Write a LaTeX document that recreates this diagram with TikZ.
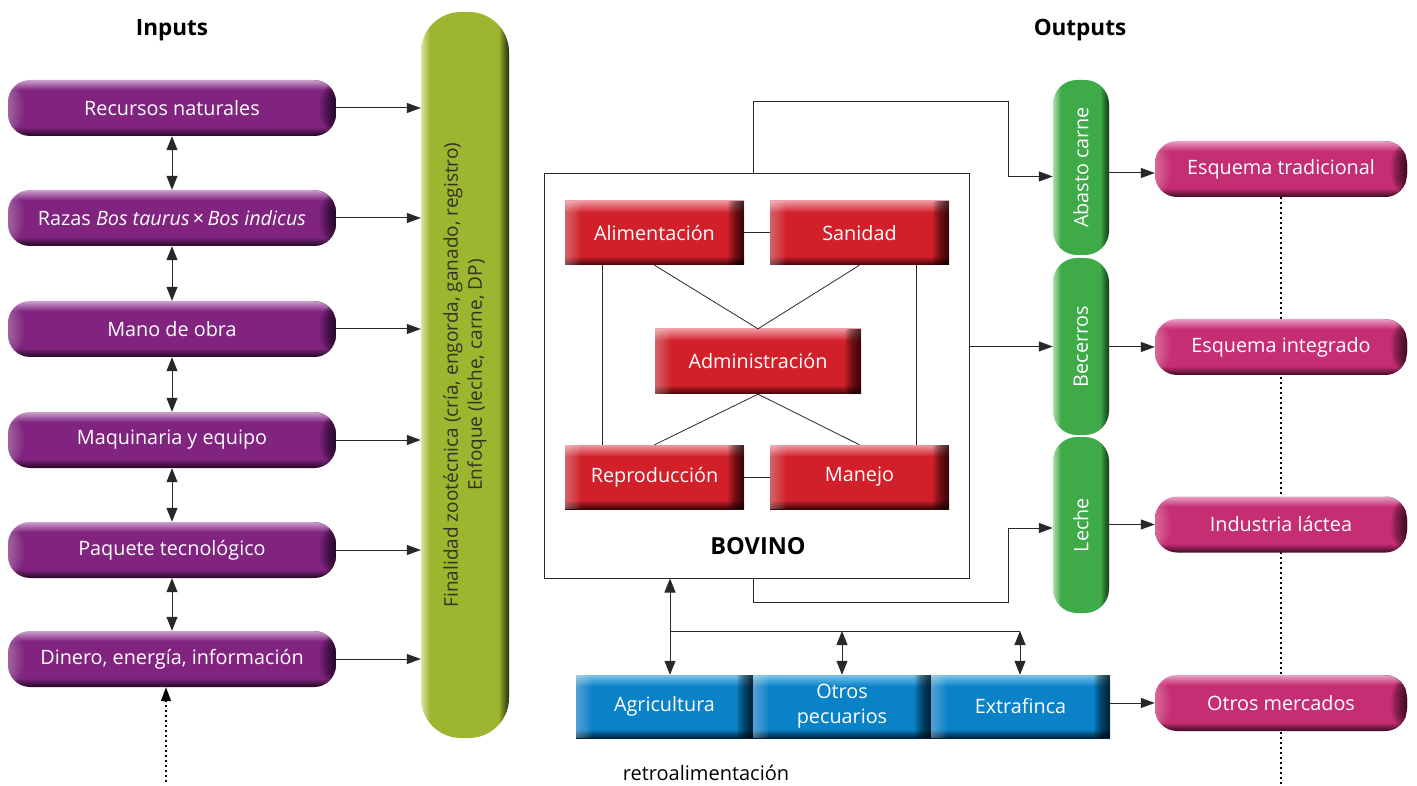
\documentclass[tikz,border=0pt]{standalone}
\usepackage{fontspec}
\setmainfont{Open Sans}
\usetikzlibrary{arrows.meta,backgrounds}

\definecolor{lineC}{RGB}{40,40,40}
\definecolor{pL}{RGB}{205,160,205}\definecolor{pB}{RGB}{128,36,128}\definecolor{pD}{RGB}{35,8,35}
\definecolor{mL}{RGB}{232,160,195}\definecolor{mB}{RGB}{198,46,116}\definecolor{mD}{RGB}{60,10,35}
\definecolor{rL}{RGB}{238,150,158}\definecolor{rB}{RGB}{210,32,42}\definecolor{rD}{RGB}{60,5,8}
\definecolor{bL}{RGB}{120,195,235}\definecolor{bB}{RGB}{10,130,200}\definecolor{bD}{RGB}{0,35,60}
\definecolor{gL}{RGB}{175,220,175}\definecolor{gB}{RGB}{62,170,72}\definecolor{gD}{RGB}{15,55,20}
\definecolor{oL}{RGB}{218,228,165}\definecolor{oB}{RGB}{157,182,48}\definecolor{oD}{RGB}{35,45,8}
\definecolor{barText}{RGB}{50,50,40}

\pgfdeclareverticalshading{vP}{100bp}{color(0bp)=(pD); color(25bp)=(pD); color(33bp)=(pB); color(66bp)=(pB); color(75bp)=(pL); color(100bp)=(pL)}
\pgfdeclareverticalshading{vM}{100bp}{color(0bp)=(mD); color(25bp)=(mD); color(33bp)=(mB); color(66bp)=(mB); color(75bp)=(mL); color(100bp)=(mL)}
\pgfdeclareverticalshading{vR}{100bp}{color(0bp)=(rD); color(25bp)=(rD); color(32bp)=(rB); color(66bp)=(rB); color(75bp)=(rL); color(100bp)=(rL)}
\pgfdeclareverticalshading{vB}{100bp}{color(0bp)=(bD); color(25bp)=(bD); color(32bp)=(bB); color(66bp)=(bB); color(75bp)=(bL); color(100bp)=(bL)}
\pgfdeclarehorizontalshading{hG}{100bp}{color(0bp)=(gL); color(25bp)=(gL); color(32bp)=(gB); color(67bp)=(gB); color(75bp)=(gD); color(100bp)=(gD)}
\pgfdeclarehorizontalshading{hO}{100bp}{color(0bp)=(oL); color(25bp)=(oL); color(30bp)=(oB); color(69bp)=(oB); color(75bp)=(oD); color(100bp)=(oD)}

\begin{document}
\begin{tikzpicture}[x=1pt,y=-1pt,
  line/.style={draw=lineC, line width=1pt},
  thinline/.style={draw=lineC, line width=0.8pt},
  arr/.style={line, -{Triangle[length=14pt,width=10pt]}},
  darr/.style={line, {Triangle[length=14pt,width=11pt]}-{Triangle[length=14pt,width=11pt]}},
  dotl/.style={draw=black, line width=1.6pt, dash pattern=on 1.6pt off 3.4pt},
  bevel/.style={path picture={
     \foreach \k in {1,...,16} {
       \fill[black, fill opacity=#1] ([xshift={(\k-17)*1pt}]path picture bounding box.north east) rectangle (path picture bounding box.south east);
       \fill[white, fill opacity=0.025] (path picture bounding box.north west) rectangle ([xshift={(17-\k)*1pt}]path picture bounding box.south west);
     }}},
  bevel/.default=0.06,
  boxtxt/.style={font=\fontsize{19.8}{24}\selectfont, text=white, inner sep=0pt, align=center},
  inbox/.style={boxtxt, rectangle, rounded corners=22pt, minimum width=328pt, minimum height=56pt, shading=vP, bevel},
  mgbox/.style={boxtxt, rectangle, rounded corners=22pt, minimum width=252pt, minimum height=56pt, shading=vM, bevel},
  redbox/.style={boxtxt, rectangle, minimum width=179pt, minimum height=64pt, shading=vR, bevel=0.07},
  blbox/.style={boxtxt, rectangle, minimum height=63pt, shading=vB, bevel=0.07},
  grbox/.style={boxtxt, rectangle, rounded corners=24pt, minimum width=56pt, shading=hG},
  olbar/.style={rectangle, rounded corners=40pt, minimum width=88pt, minimum height=726pt, shading=hO, inner sep=0pt,
     font=\fontsize{19}{24}\selectfont, text=barText},
  title/.style={font=\fontsize{22.5}{26}\selectfont\bfseries, text=black},
]
\useasboundingbox (0,0) rectangle (1417,786);

% titles
\node[title] (tin) at (172,30) {Inputs};
\node[title] (tout) at (1080,30) {Outputs};

% inputs
\node[inbox] (r1) at (172,108) {Recursos naturales};
\node[inbox] (r2) at (172,218) {Razas \textit{Bos taurus}\,×\,\textit{Bos indicus}};
\node[inbox] (r3) at (172,329) {Mano de obra};
\node[inbox] (r4) at (172,440) {Maquinaria y equipo};
\node[inbox] (r5) at (172,550) {Paquete tecnológico};
\node[inbox] (r6) at (172,659) {Dinero, energía, información};

% olive bar
\node[olbar] (bar) at (465,375) {\rotatebox{90}{\begin{tabular}{@{}c@{}}Finalidad zootécnica (cría, engorda, ganado, registro)\\Enfoque (leche, carne, DP)\end{tabular}}};

\foreach \i in {1,...,6} {\draw[arr] (r\i.east) -- (r\i.east -| bar.west);}
\draw[darr] (r1.south) -- (r2.north);
\draw[darr] (r2.south) -- (r3.north);
\draw[darr] (r3.south) -- (r4.north);
\draw[darr] (r4.south) -- (r5.north);
\draw[darr] (r5.south) -- (r6.north);
\coordinate (ldot) at (166,782);
\draw[dotl, -{Triangle[length=14pt,width=10pt]}] (ldot) -- (ldot |- r6.south);

% bovino system
\node[draw=lineC, line width=1pt, minimum width=425pt, minimum height=404pt, inner sep=0pt] (bov) at (756.5,376) {};
\node[redbox] (alim) at (654.5,233) {Alimentación};
\node[redbox] (san) at (859.5,233) {Sanidad};
\node[redbox, minimum width=206pt, minimum height=65pt] (adm) at (758,361.5) {Administración};
\node[redbox] (rep) at (654.5,477) {Reproducción};
\node[redbox] (man) at (859.5,477) {Manejo};
\node[font=\fontsize{23.5}{26}\selectfont\bfseries] (bovlab) at (758,546) {BOVINO};

\draw[line] (alim) -- (san);
\draw[line] (rep) -- (man);
\draw[line] ([xshift=-52.5pt]alim.south) -- ([xshift=-52.5pt]rep.north);
\draw[line] ([xshift=56.5pt]san.south) -- ([xshift=56.5pt]man.north);
\draw[thinline] (alim.south) -- (adm.north) -- (san.south);
\draw[thinline] (rep.north) -- (adm.south) -- (man.north);

% outputs (green)
\node[grbox, minimum height=175pt] (abasto) at (1081,167.5) {\rotatebox{90}{Abasto carne}};
\node[grbox, minimum height=177pt] (becerros) at (1081,346.5) {\rotatebox{90}{Becerros}};
\node[grbox, minimum height=176pt] (leche) at (1081,525) {\rotatebox{90}{Leche}};

\coordinate (k1) at (1008,102);
\coordinate (k2) at (1008,602);
\draw[arr] ([xshift=-3.5pt]bov.north) |- (k1) |- ([yshift=-9pt]abasto.west);
\draw[arr] ([xshift=-3.5pt]bov.south) |- (k2) |- ([yshift=-3pt]leche.west);
\draw[arr] (becerros.west -| bov.east) -- (becerros.west);

% markets
\node[mgbox] (et) at (1281,169) {Esquema tradicional};
\node[mgbox] (ei) at (1281,347) {Esquema integrado};
\node[mgbox] (il) at (1281,524.5) {Industria láctea};
\node[mgbox] (om) at (1281,703) {Otros mercados};
\coordinate (rdot) at (1281,784);
\begin{scope}[on background layer]
\draw[dotl] (et.south) -- (rdot);
\end{scope}

\draw[arr] ([yshift=-4pt]et.west -| abasto.east) -- ([yshift=-4pt]et.west);
\draw[arr] (ei.west -| becerros.east) -- (ei.west);
\draw[arr] (il.west -| leche.east) -- (il.west);

% blue boxes
\node[blbox, minimum width=177pt] (agri) at (664.5,706.5) {Agricultura};
\node[blbox, minimum width=178pt, font=\fontsize{19.8}{25}\selectfont] (otros) at (842,706.5) {Otros\\pecuarios};
\node[blbox, minimum width=179pt] (extra) at (1020.5,706.5) {Extrafinca};

\coordinate (b1) at (670,631);
\coordinate (b2) at (842,631);
\coordinate (b3) at (1020,631);
\draw[darr] (b1 |- bov.south) -- (b1 |- agri.north);
\draw[line] (b1) -- (b3);
\draw[darr] (b2) -- (b2 |- otros.north);
\draw[darr] (b3) -- (b3 |- extra.north);
\draw[arr] (om.west -| extra.east) -- (om.west);

\node[font=\fontsize{20}{24}\selectfont] (retro) at (706,773) {retroalimentación};
\end{tikzpicture}
\end{document}
